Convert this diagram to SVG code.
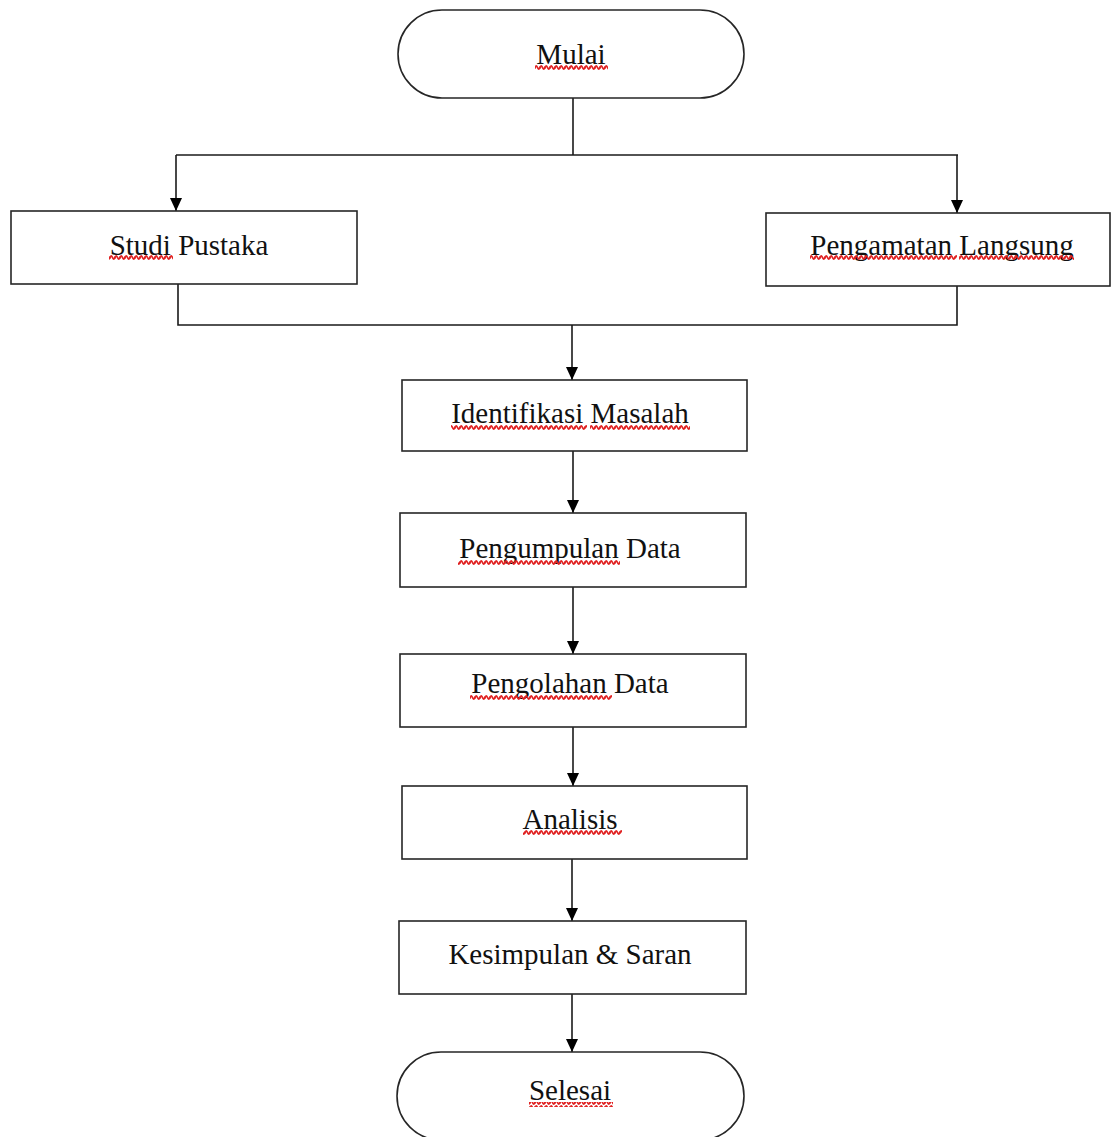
<svg xmlns="http://www.w3.org/2000/svg" width="1112" height="1137" viewBox="0 0 1112 1137">
<style>
.box{fill:#fff;stroke:#262626;stroke-width:1.6}
.lbl{font-family:"Liberation Serif","Times New Roman",serif;font-size:29px;fill:#111;text-anchor:middle}
.con{fill:none;stroke:#1a1a1a;stroke-width:1.6}
.sq{fill:url(#wave)}
</style>
<defs>
<marker id="arr" viewBox="0 0 13 12" markerWidth="13" markerHeight="12" refX="13" refY="6" orient="auto" markerUnits="userSpaceOnUse">
<path d="M0,0 L13,6 L0,12 z" fill="#000"/>
</marker>
<pattern id="wave" width="5" height="5" patternUnits="userSpaceOnUse">
<path d="M0,3.8 Q1.25,0 2.5,2.5 T5,1.2" fill="none" stroke="#e02020" stroke-width="1.2"/>
<path d="M0,2.5 Q1.25,-1.2 2.5,2.5 T5,2.5" fill="none" stroke="#e02020" stroke-width="1.2"/>
</pattern>
</defs>
<rect width="1112" height="1137" fill="#fff"/>
<g id="connectors">
<path class="con" d="M573,98 V155"/>
<path class="con" d="M176,155 H958"/>
<path class="con" d="M176,155 V211" marker-end="url(#arr)"/>
<path class="con" d="M957,155 V213" marker-end="url(#arr)"/>
<path class="con" d="M178,284 V325 H957 V286"/>
<path class="con" d="M572,325 V380" marker-end="url(#arr)"/>
<path class="con" d="M573,451 V513" marker-end="url(#arr)"/>
<path class="con" d="M573,587 V654" marker-end="url(#arr)"/>
<path class="con" d="M573,722 V786" stroke-width="2.4" marker-end="url(#arr)"/>
<path class="con" d="M572,859 V921" marker-end="url(#arr)"/>
<path class="con" d="M572,994 V1052" marker-end="url(#arr)"/>
</g>
<g id="mulai">
<rect class="box" x="398" y="10" width="346" height="88" rx="44" ry="44"/>
<text class="lbl" x="571" y="64">Mulai</text>
<rect class="sq" x="535" y="65" width="73" height="5"/>
</g>
<g id="studi-pustaka">
<rect class="box" x="11" y="211" width="346" height="73"/>
<text class="lbl" x="189" y="255">Studi Pustaka</text>
<rect class="sq" x="109" y="255" width="64" height="5"/>
</g>
<g id="pengamatan-langsung">
<rect class="box" x="766" y="213" width="344" height="73"/>
<text class="lbl" x="942" y="255">Pengamatan Langsung</text>
<rect class="sq" x="810" y="255" width="147" height="5"/>
<rect class="sq" x="959" y="255" width="115" height="5"/>
</g>
<g id="identifikasi-masalah">
<rect class="box" x="402" y="380" width="345" height="71"/>
<text class="lbl" x="570" y="423">Identifikasi Masalah</text>
<rect class="sq" x="451" y="425" width="136" height="5"/>
<rect class="sq" x="590" y="425" width="100" height="5"/>
</g>
<g id="pengumpulan-data">
<rect class="box" x="400" y="513" width="346" height="74"/>
<text class="lbl" x="570" y="558">Pengumpulan Data</text>
<rect class="sq" x="458" y="560" width="162" height="5"/>
</g>
<g id="pengolahan-data">
<rect class="box" x="400" y="654" width="346" height="73"/>
<text class="lbl" x="570" y="693">Pengolahan Data</text>
<rect class="sq" x="470" y="695" width="142" height="5"/>
</g>
<g id="analisis">
<rect class="box" x="402" y="786" width="345" height="73"/>
<text class="lbl" x="570" y="829">Analisis</text>
<rect class="sq" x="523" y="830" width="99" height="5"/>
</g>
<g id="kesimpulan-saran">
<rect class="box" x="399" y="921" width="347" height="73"/>
<text class="lbl" x="570" y="964">Kesimpulan &amp; Saran</text>
</g>
<g id="selesai">
<rect class="box" x="397" y="1052" width="347" height="88" rx="44" ry="44"/>
<text class="lbl" x="570" y="1100">Selesai</text>
<rect class="sq" x="529" y="1102" width="84" height="5"/>
</g>
</svg>
